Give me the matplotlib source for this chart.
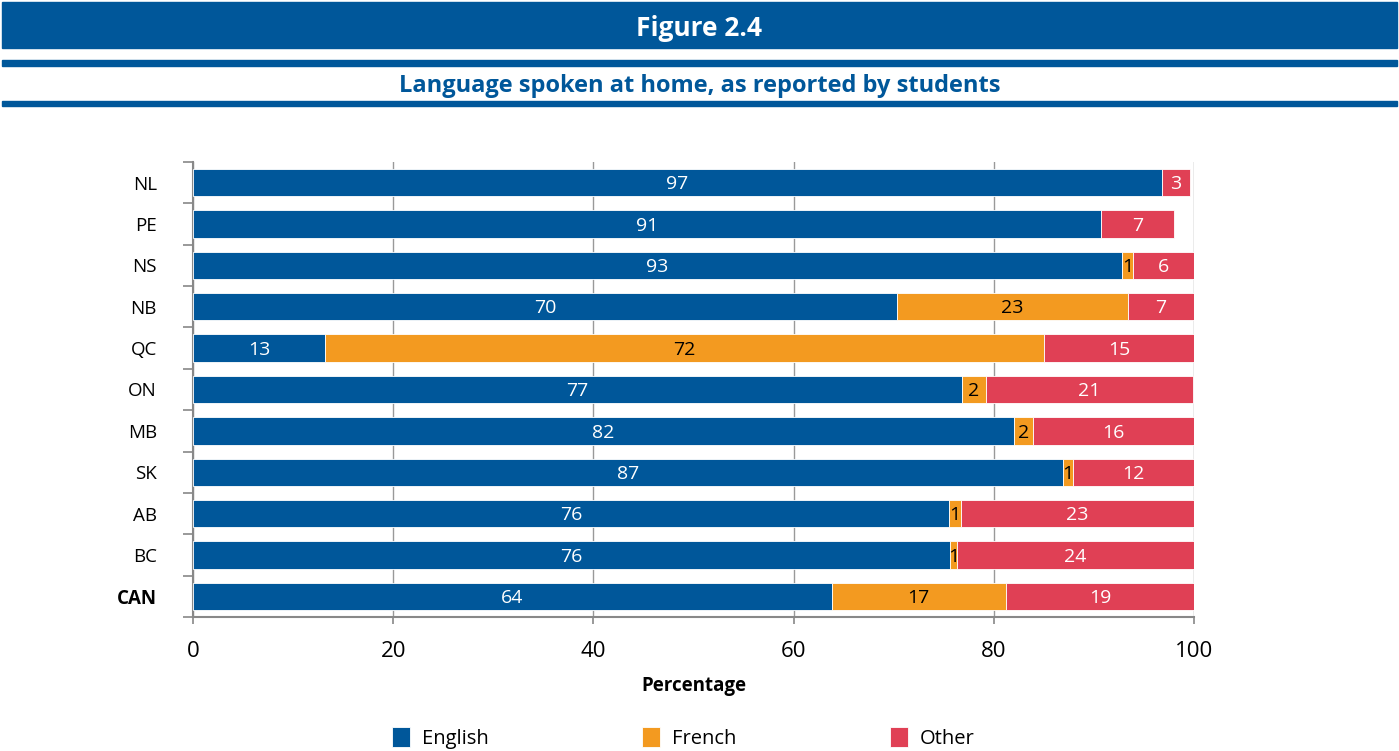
import matplotlib.pyplot as plt
from matplotlib.patches import Rectangle

plt.rcParams['font.family'] = ['Open Sans', 'DejaVu Sans']

# data
provinces = ['NL', 'PE', 'NS', 'NB', 'QC', 'ON', 'MB', 'SK', 'AB', 'BC', 'CAN']
english = [96.8, 90.7, 92.8, 70.3, 13.2, 76.8, 82.0, 86.9, 75.5, 75.6, 63.8]
french = [0.0, 0.0, 1.1, 23.1, 71.8, 2.4, 1.9, 1.0, 1.2, 0.7, 17.4]
other = [2.8, 7.3, 6.1, 6.6, 15.0, 20.7, 16.1, 12.1, 23.3, 23.7, 18.8]

series = [('English', english, '#00579A', 'white'),
          ('French', french, '#F39A20', 'black'),
          ('Other', other, '#E04055', 'white')]

BLUE = '#00579A'

fig = plt.figure(figsize=(13.99, 7.51), dpi=100)

# header bands
W, H = 1399, 751
def band(y0, y1):
    fig.patches.append(Rectangle((2 / W, 1 - y1 / H), 1395 / W, (y1 - y0) / H,
                                 transform=fig.transFigure, color=BLUE, zorder=0))
band(2, 48)
band(60, 66)
band(101, 106)
fig.text(0.5, 1 - 28 / H, 'Figure 2.4', color='white', fontsize=19,
         fontweight='bold', ha='center', va='center')
fig.text(0.5, 1 - 86 / H, 'Language spoken at home, as reported by students',
         color=BLUE, fontsize=17, fontweight='bold', ha='center', va='center')

ax = fig.add_axes([193 / W, 1 - 617 / H, (1194 - 193) / W, (617 - 162) / H])

ypos = list(range(len(provinces)))
left = [0.0] * len(provinces)
for name, vals, col, tcol in series:
    bars = ax.barh(ypos, vals, left=left, height=0.66, color=col, label=name,
                   edgecolor='white', linewidth=0.6, zorder=3)
    for b, v, l in zip(bars, vals, left):
        if v > 0:
            ax.text(l + v / 2, b.get_y() + b.get_height() / 2 + 0.04, f'{v:.0f}',
                    ha='center', va='center', color=tcol, fontsize=14, zorder=4)
    left = [a + b for a, b in zip(left, vals)]

ax.set_xlim(0, 100)
ax.set_ylim(len(provinces) - 0.5, -0.5)
ax.set_yticks(ypos)
ax.set_yticklabels(provinces, fontsize=13.5)
ax.get_yticklabels()[-1].set_fontweight('bold')
ax.set_yticks([i - 0.5 for i in range(len(provinces) + 1)], minor=True)
ax.tick_params(axis='y', which='major', length=0, pad=26)
ax.tick_params(axis='y', which='minor', length=7, color='#888888', width=1.2)
ax.set_xticks([0, 20, 40, 60, 80, 100])
ax.tick_params(axis='x', length=5, color='#888888', width=1.2, labelsize=16, pad=12)
ax.grid(axis='x', color='#999999', linewidth=1, zorder=0)

for s in ['top', 'right']:
    ax.spines[s].set_visible(False)
for s in ['left', 'bottom']:
    ax.spines[s].set_color('#888888')
    ax.spines[s].set_linewidth(1.5)

ax.set_xlabel('Percentage', fontsize=13.5, fontweight='bold', labelpad=10)

fig.legend(loc='center', bbox_to_anchor=(0.5 - 16 / W, 1 - 738 / H), ncol=3,
           frameon=False, fontsize=14.5, handlelength=0.9, handleheight=1.1,
           columnspacing=7.6, handletextpad=0.6)

fig.savefig('out.png', dpi=100)
